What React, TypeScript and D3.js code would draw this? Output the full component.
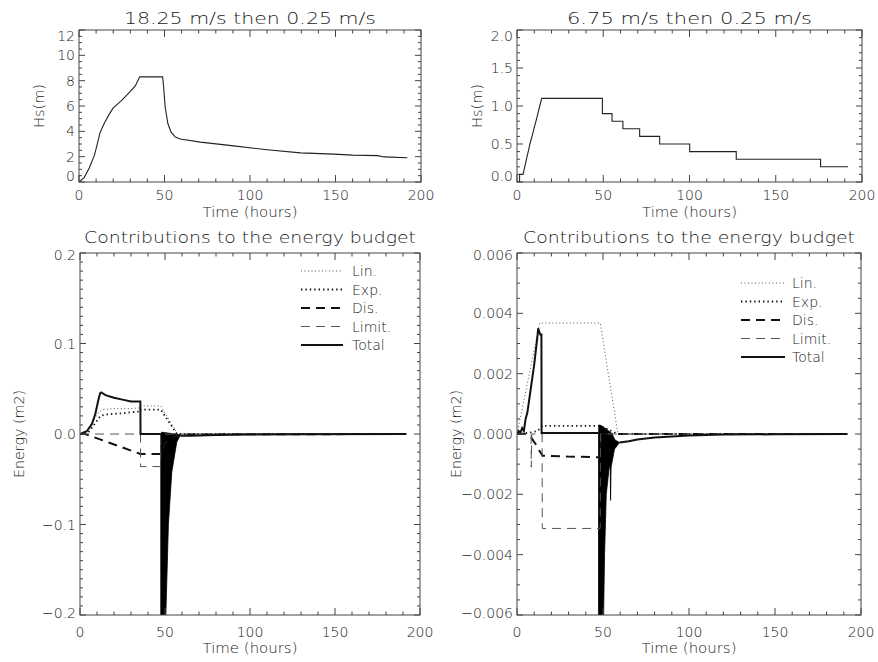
import React from "react";
import * as d3 from "d3";

type Pt = [number, number];

// ---------- tick labels ----------
const timeTicks = [0, 50, 100, 150, 200];
const hsStrongTicks = [0, 2, 4, 6, 8, 10, 12];
const hsWeakTicks = [0, 0.5, 1.0, 1.5, 2.0];
const enStrongTicks = [-0.2, -0.1, 0.0, 0.1, 0.2];
const enWeakTicks = [-0.006, -0.004, -0.002, 0.0, 0.002, 0.004, 0.006];
const legendNames = ["Lin.", "Exp.", "Dis.", "Limit.", "Total"];

// ---------- Hs, strong wind (18.25 m/s then 0.25 m/s) ----------
const hsStrong: Pt[] = [
  [0, 0], [3, 0.35], [6, 1.1], [9, 2.1], [10.5, 2.9], [12.3, 3.9], [15, 4.7], [17.5, 5.3],
  [20, 5.85], [25, 6.45], [30, 7.15], [33, 7.6], [35.5, 8.3], [48.9, 8.3], [49.5, 7.5],
  [50.4, 5.9], [52, 4.6], [53.8, 3.95], [56.3, 3.55], [59.2, 3.4], [71, 3.15], [90.5, 2.85],
  [110, 2.55], [129.6, 2.3], [149, 2.2], [160, 2.12], [174.6, 2.08], [178.5, 1.98], [192, 1.92],
];

// ---------- Hs, weak wind (6.75 m/s then 0.25 m/s) ----------
const hsWeak: Pt[] = [
  [0, 0], [1.5, 0], [1.5, 0.1], [3.5, 0.1], [4.5, 0.2], [5.5, 0.3], [6.5, 0.4], [7.5, 0.5],
  [8.7, 0.6], [9.8, 0.7], [11, 0.8], [12.1, 0.9], [13.2, 1.0], [14.3, 1.1], [49.5, 1.1],
  [49.5, 0.9], [55.1, 0.9], [55.1, 0.8], [61.4, 0.8], [61.4, 0.7], [71.1, 0.7], [71.1, 0.6],
  [82.7, 0.6], [82.7, 0.5], [100.1, 0.5], [100.1, 0.4], [127.1, 0.4], [127.1, 0.3],
  [176, 0.3], [176, 0.2], [191.9, 0.2],
];

// ---------- energy budget, strong wind ----------
const linStrong: Pt[] = [
  [0, 0], [4, 0.004], [8, 0.015], [11, 0.024], [13, 0.027], [20, 0.028], [30, 0.028],
  [35.5, 0.029], [35.6, 0.031], [47.5, 0.031], [57.5, 0.0], [192, 0],
];
const expStrong: Pt[] = [
  [0, 0], [5, 0.002], [9, 0.012], [12, 0.02], [15, 0.0215], [25, 0.023], [35.5, 0.025],
  [35.6, 0.027], [47.5, 0.027], [57, 0.0], [192, 0],
];
const disStrong: Pt[] = [
  [0, 0], [3, 0], [35.5, -0.022], [47.5, -0.022], [50, -0.01], [56, -0.002], [60, -0.0005], [192, 0],
];
const limStrong: Pt[] = [
  [0, 0], [35.6, 0], [35.6, -0.036], [47.5, -0.036], [47.5, 0], [192, 0],
];
const totStrong: Pt[] = [
  [0, 0], [4, 0.003], [7, 0.011], [9, 0.022], [10.5, 0.035], [11.8, 0.045], [12.5, 0.046],
  [15, 0.043], [20, 0.04], [25, 0.038], [30, 0.036], [35.5, 0.036], [35.6, 0], [47.5, 0],
];
const totStrongTail: Pt[] = [
  [59, -0.002], [65, -0.0018], [80, -0.0012], [100, -0.0005], [130, -0.0002], [192, 0],
];
const oscStrongUpper: Pt[] = [
  [47.5, 0], [48, 0.002], [52, 0.001], [56, 0], [59, -0.002],
];
const oscStrongLower: Pt[] = [
  [47.5, -0.26], [50.4, -0.26], [50.5, -0.2], [52, -0.1], [54, -0.042], [56.9, -0.009],
  [58.5, -0.003], [59, -0.002],
];

// ---------- energy budget, weak wind ----------
const linWeak: Pt[] = [
  [0, 0], [13.2, 0.00368], [48.4, 0.00368], [58.7, 0], [192, 0],
];
const expWeak: Pt[] = [
  [0, 0], [8, 0.00005], [12, 0.0001], [14.5, 0.00027], [48.4, 0.00027], [58.7, 0], [192, 0],
];
const disWeak: Pt[] = [
  [0, 0], [5, 0], [8, -0.0001], [11, -0.00035], [13.5, -0.0006], [15, -0.00072],
  [30, -0.00075], [48.4, -0.00077], [49, 0], [192, 0],
];
const limWeak: Pt[] = [
  [0, 0], [8.2, 0], [8.3, -0.0011], [8.6, 0], [14.6, 0], [14.7, -0.00313],
  [48.4, -0.00313], [48.5, 0], [192, 0],
];
const totWeak: Pt[] = [
  [0, 0], [1, 0.0001], [2, 0.00005], [3, 0.0002], [4, 0.0001], [5, 0.0005], [6, 0.0007],
  [7, 0.0011], [8, 0.0015], [9, 0.0019], [10, 0.0023], [11, 0.0028], [12, 0.0033],
  [12.3, 0.0035], [13.5, 0.0033], [14.2, 0.0033], [14.3, 0.00003], [47.4, 0.00003],
];
const totWeakTail: Pt[] = [
  [59.6, -0.00028], [65, -0.00024], [70, -0.00018], [80, -0.00012], [90, -0.00008],
  [100, -0.00005], [120, -0.00002], [150, -0.00001], [192, 0],
];
const oscWeakUpper: Pt[] = [
  [47.4, 0], [47.6, 0.0003], [49, 0.00028], [51, 0.0002], [53, 0.00012], [55, 0.00003],
  [57, -0.0002], [59.6, -0.00028],
];
const oscWeakLower: Pt[] = [
  [47.4, -0.007], [50.3, -0.007], [50.4, -0.0058], [50.9, -0.004], [51.9, -0.002],
  [53.8, -0.001], [54.2, -0.0012], [54.4, -0.0022], [54.7, -0.0011], [56.7, -0.0005],
  [59.6, -0.00028],
];

// ---------- styles ----------
const FONT = "DejaVu Sans";
const FW = 200;
const TXT = "#1a1a1a";
const AX = "#444";

type LineStyle = { stroke: string; width: number; dash?: string; cap?: string };
const styles: Record<string, LineStyle> = {
  "Lin.": { stroke: "#555", width: 1, dash: "1 2.5" },
  "Exp.": { stroke: "#111", width: 1.8, dash: "1.4 3", cap: "butt" },
  "Dis.": { stroke: "#111", width: 2, dash: "9 6" },
  "Limit.": { stroke: "#555", width: 1, dash: "9 6" },
  Total: { stroke: "#111", width: 2 },
  hs: { stroke: "#222", width: 1.1 },
};

type Box = { l: number; r: number; t: number; b: number };

type PanelProps = {
  id: string;
  box: Box;
  yDomain: [number, number];
  yTicks: number[];
  yMinor: number;
  fmt: (v: number) => string;
  labelInset: number;
  title: string;
  titleLen: number;
  titleY: number;
  ylabel: string;
  ylabelX: number;
  ylabelLen: number;
  xTitleY: number;
  xTickY: number;
  lines: { name: string; data: Pt[] }[];
  fills?: { upper: Pt[]; lower: Pt[] }[];
  legend?: { sx0: number; sx1: number; tx: number; rows: number[] };
};

function Panel(p: PanelProps) {
  const { box } = p;
  const x = d3.scaleLinear().domain([0, 200]).range([box.l, box.r]);
  const y = d3.scaleLinear().domain(p.yDomain).range([box.b, box.t]);
  const line = d3.line<Pt>().x((d) => x(d[0])).y((d) => y(d[1]));
  const eps = 1e-9;
  const xMinor = d3.range(0, 200 + eps, 10).filter((v) => v % 50 !== 0);
  const nMin = Math.round((p.yDomain[1] - p.yDomain[0]) / p.yMinor);
  const yMinor = d3
    .range(0, nMin + 1)
    .map((i) => p.yDomain[0] + i * p.yMinor)
    .filter((v) => !p.yTicks.some((t) => Math.abs(t - v) < p.yMinor / 10));
  const xMaj = 7, xMin = 3.5, yMaj = 6, yMin = 3;
  const cx = (box.l + box.r) / 2;
  const clamp = (v: number) => Math.max(box.t + p.labelInset, Math.min(box.b - p.labelInset, v));

  return (
    <g>
      <defs>
        <clipPath id={p.id}>
          <rect x={box.l} y={box.t} width={box.r - box.l} height={box.b - box.t} />
        </clipPath>
      </defs>
      <g clipPath={`url(#${p.id})`}>
        {(p.fills || []).map((f, i) => (
          <path key={"f" + i} d={line([...f.upper, ...f.lower.slice().reverse()]) + "Z"} fill="#000" stroke="#000" strokeWidth={0.8} />
        ))}
        {p.lines.map((ln, i) => {
          const s = styles[ln.name];
          return (
            <path
              key={i}
              d={line(ln.data) || ""}
              fill="none"
              stroke={s.stroke}
              strokeWidth={s.width}
              strokeDasharray={s.dash}
              strokeLinecap={(s.cap as any) || "butt"}
              strokeLinejoin="miter"
            />
          );
        })}
      </g>
      <rect x={box.l} y={box.t} width={box.r - box.l} height={box.b - box.t} fill="none" stroke={AX} strokeWidth={1} />
      {timeTicks.map((v) => (
        <g key={"xt" + v}>
          <line x1={x(v)} x2={x(v)} y1={box.b} y2={box.b - xMaj} stroke={AX} />
          <line x1={x(v)} x2={x(v)} y1={box.t} y2={box.t + xMaj} stroke={AX} />
          <text x={x(v)} y={p.xTickY} textAnchor="middle" fontFamily={FONT} fontWeight={FW} fontSize={14} fill={TXT}>
            {v}
          </text>
        </g>
      ))}
      {xMinor.map((v) => (
        <g key={"xm" + v}>
          <line x1={x(v)} x2={x(v)} y1={box.b} y2={box.b - xMin} stroke={AX} />
          <line x1={x(v)} x2={x(v)} y1={box.t} y2={box.t + xMin} stroke={AX} />
        </g>
      ))}
      {p.yTicks.map((v) => (
        <g key={"yt" + v}>
          <line x1={box.l} x2={box.l + yMaj} y1={y(v)} y2={y(v)} stroke={AX} />
          <line x1={box.r} x2={box.r - yMaj} y1={y(v)} y2={y(v)} stroke={AX} />
          <text x={box.l - 4} y={clamp(y(v))} dy="0.36em" textAnchor="end" fontFamily={FONT} fontWeight={FW} fontSize={14} fill={TXT}>
            {p.fmt(v)}
          </text>
        </g>
      ))}
      {yMinor.map((v, i) => (
        <g key={"ym" + i}>
          <line x1={box.l} x2={box.l + yMin} y1={y(v)} y2={y(v)} stroke={AX} />
          <line x1={box.r} x2={box.r - yMin} y1={y(v)} y2={y(v)} stroke={AX} />
        </g>
      ))}
      <text x={cx} y={p.titleY} textAnchor="middle" fontFamily={FONT} fontWeight={FW} fontSize={16} fill={TXT}
        textLength={p.titleLen} lengthAdjust="spacingAndGlyphs">
        {p.title}
      </text>
      <text x={cx} y={p.xTitleY} textAnchor="middle" fontFamily={FONT} fontWeight={FW} fontSize={14.5} fill={TXT}
        textLength={95} lengthAdjust="spacingAndGlyphs">
        Time (hours)
      </text>
      <text
        transform={`translate(${p.ylabelX},${(box.t + box.b) / 2}) rotate(-90)`}
        textAnchor="middle"
        dy="0.36em"
        fontFamily={FONT}
        fontWeight={FW}
        fontSize={14}
        fill={TXT}
        textLength={p.ylabelLen}
        lengthAdjust="spacingAndGlyphs"
      >
        {p.ylabel}
      </text>
      {p.legend &&
        legendNames.map((n, i) => {
          const s = styles[n];
          const ly = p.legend!.rows[i];
          return (
            <g key={"lg" + n}>
              <line x1={p.legend!.sx0} x2={p.legend!.sx1} y1={ly} y2={ly} stroke={s.stroke}
                strokeWidth={s.width} strokeDasharray={s.dash} />
              <text x={p.legend!.tx} y={ly} dy="0.36em" fontFamily={FONT} fontWeight={FW} fontSize={14} fill={TXT}>
                {n}
              </text>
            </g>
          );
        })}
    </g>
  );
}

const minus = (s: string) => s.replace("-", "\u2212");

export default function App() {
  return (
    <svg width={878} height={662} style={{ position: "absolute", left: 0, top: 0, background: "#fff" }}>
      <rect width={878} height={662} fill="#fff" />
      <Panel
        id="c1"
        box={{ l: 79, r: 421, t: 30, b: 182 }}
        yDomain={[0, 12]}
        yTicks={hsStrongTicks}
        yMinor={0.5}
        fmt={(v) => d3.format("d")(v)}
        labelInset={6}
        title="18.25 m/s then 0.25 m/s"
        titleLen={252}
        titleY={24}
        ylabel="Hs(m)"
        ylabelX={39}
        ylabelLen={44}
        xTitleY={217}
        xTickY={200}
        lines={[{ name: "hs", data: hsStrong }]}
      />
      <Panel
        id="c2"
        box={{ l: 517, r: 862, t: 30, b: 182 }}
        yDomain={[0, 2]}
        yTicks={hsWeakTicks}
        yMinor={0.1}
        fmt={(v) => d3.format(".1f")(v)}
        labelInset={6}
        title="6.75 m/s then 0.25 m/s"
        titleLen={245}
        titleY={24}
        ylabel="Hs(m)"
        ylabelX={477}
        ylabelLen={44}
        xTitleY={217}
        xTickY={200}
        lines={[{ name: "hs", data: hsWeak }]}
      />
      <Panel
        id="c3"
        box={{ l: 80, r: 420, t: 253, b: 615 }}
        yDomain={[-0.2, 0.2]}
        yTicks={enStrongTicks}
        yMinor={0.01}
        fmt={(v) => minus(d3.format(".1f")(v))}
        labelInset={2}
        title="Contributions to the energy budget"
        titleLen={332}
        titleY={243}
        ylabel="Energy (m2)"
        ylabelX={19}
        ylabelLen={88}
        xTitleY={653}
        xTickY={637}
        lines={[
          { name: "Lin.", data: linStrong },
          { name: "Exp.", data: expStrong },
          { name: "Dis.", data: disStrong },
          { name: "Limit.", data: limStrong },
          { name: "Total", data: totStrong },
          { name: "Total", data: totStrongTail },
        ]}
        fills={[{ upper: oscStrongUpper, lower: oscStrongLower }]}
        legend={{ sx0: 301, sx1: 343, tx: 352, rows: [271, 289.5, 308, 326.5, 345] }}
      />
      <Panel
        id="c4"
        box={{ l: 517, r: 861, t: 253, b: 615 }}
        yDomain={[-0.006, 0.006]}
        yTicks={enWeakTicks}
        yMinor={0.0005}
        fmt={(v) => minus(d3.format(".3f")(v))}
        labelInset={2}
        title="Contributions to the energy budget"
        titleLen={332}
        titleY={243}
        ylabel="Energy (m2)"
        ylabelX={456}
        ylabelLen={88}
        xTitleY={653}
        xTickY={637}
        lines={[
          { name: "Lin.", data: linWeak },
          { name: "Exp.", data: expWeak },
          { name: "Dis.", data: disWeak },
          { name: "Limit.", data: limWeak },
          { name: "Total", data: totWeak },
          { name: "Total", data: totWeakTail },
        ]}
        fills={[{ upper: oscWeakUpper, lower: oscWeakLower }]}
        legend={{ sx0: 741, sx1: 785, tx: 792, rows: [283, 301.5, 320, 338.5, 357] }}
      />
    </svg>
  );
}
